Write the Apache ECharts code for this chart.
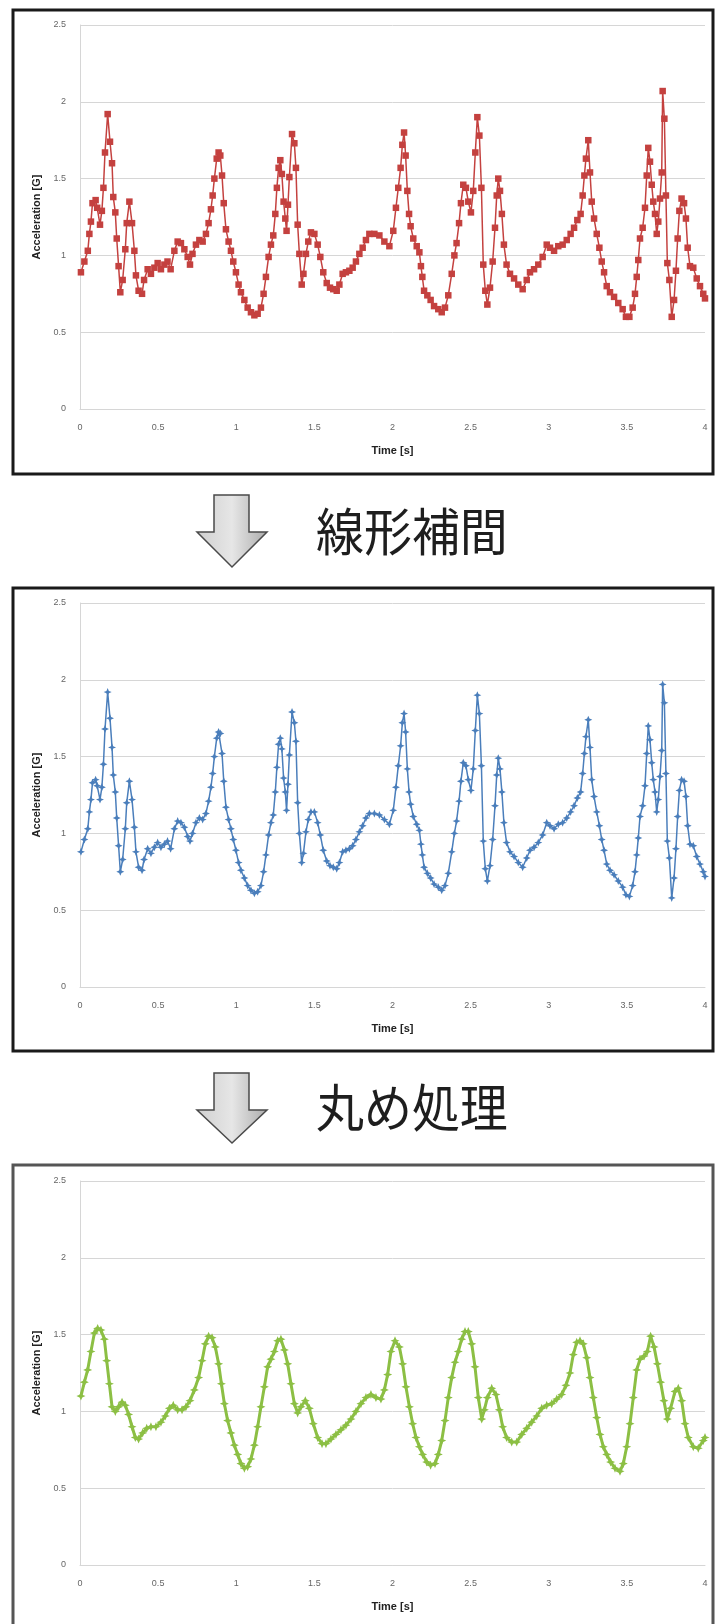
<!DOCTYPE html>
<html>
<head>
<meta charset="utf-8">
<script src="https://cdn.jsdelivr.net/npm/echarts@6/dist/echarts.min.js"></script>
<style>
html,body{margin:0;padding:0;background:#fff;}
#c{width:716px;height:1624px;}
</style>
</head>
<body>
<div id="c"></div>
<script>
// ---- data (time [s], acceleration [G]) ----
var xTicks = [0, 0.5, 1, 1.5, 2, 2.5, 3, 3.5, 4];
var yTicks = [0, 0.5, 1, 1.5, 2, 2.5];

var rawTime = [
0.006,0.028,0.05,0.06,0.07,0.08,0.1,0.11,0.128,0.14,
0.15,0.16,0.177,0.192,0.205,0.213,0.226,0.235,0.247,0.258,
0.273,0.29,0.299,0.316,0.333,0.348,0.358,0.375,0.397,0.41,
0.433,0.454,0.476,0.497,0.518,0.54,0.56,0.58,0.604,0.625,
0.646,0.668,0.689,0.704,0.72,0.742,0.764,0.785,0.806,0.823,
0.838,0.849,0.86,0.875,0.887,0.898,0.909,0.92,0.934,0.951,
0.966,0.981,0.998,1.015,1.03,1.052,1.073,1.094,1.116,1.137,
1.158,1.175,1.19,1.207,1.222,1.237,1.25,1.26,1.271,1.282,
1.292,1.303,1.314,1.322,1.331,1.34,1.357,1.372,1.382,1.393,
1.404,1.419,1.43,1.446,1.461,1.478,1.5,1.521,1.538,1.557,
1.579,1.6,1.621,1.643,1.66,1.681,1.702,1.724,1.745,1.766,
1.788,1.809,1.83,1.852,1.884,1.916,1.948,1.98,2.005,2.022,
2.037,2.052,2.063,2.074,2.084,2.095,2.106,2.116,2.133,2.155,
2.172,2.182,2.191,2.202,2.223,2.244,2.266,2.293,2.315,2.336,
2.357,2.379,2.396,2.41,2.426,2.438,2.453,2.47,2.485,2.502,
2.517,2.53,2.543,2.556,2.569,2.581,2.594,2.607,2.624,2.641,
2.656,2.667,2.677,2.688,2.7,2.713,2.73,2.752,2.778,2.805,
2.833,2.859,2.88,2.906,2.933,2.961,2.987,3.008,3.034,3.061,
3.089,3.115,3.14,3.162,3.183,3.204,3.217,3.228,3.238,3.253,
3.264,3.275,3.29,3.307,3.324,3.339,3.354,3.371,3.392,3.418,
3.445,3.473,3.494,3.516,3.537,3.552,3.563,3.573,3.584,3.601,
3.616,3.627,3.637,3.648,3.659,3.669,3.68,3.691,3.701,3.712,
3.723,3.729,3.74,3.75,3.759,3.772,3.787,3.802,3.814,3.825,
3.836,3.85,3.866,3.878,3.889,3.904,3.925,3.947,3.968,3.989,4.0
];
var rawAccel = [
0.89,0.96,1.03,1.14,1.22,1.34,1.36,1.31,1.2,1.29,
1.44,1.67,1.92,1.74,1.6,1.38,1.28,1.11,0.93,0.76,
0.84,1.04,1.21,1.35,1.21,1.03,0.87,0.77,0.75,0.84,
0.91,0.88,0.92,0.95,0.91,0.94,0.96,0.91,1.03,1.09,
1.08,1.04,0.99,0.94,1.01,1.07,1.1,1.09,1.14,1.21,
1.3,1.39,1.5,1.63,1.67,1.65,1.52,1.34,1.17,1.09,
1.03,0.96,0.89,0.81,0.76,0.71,0.66,0.63,0.61,0.62,
0.66,0.75,0.86,0.99,1.07,1.13,1.27,1.44,1.57,1.62,
1.53,1.35,1.24,1.16,1.33,1.51,1.79,1.73,1.57,1.2,
1.01,0.81,0.88,1.01,1.09,1.15,1.14,1.07,0.99,0.89,
0.82,0.79,0.78,0.77,0.81,0.88,0.89,0.9,0.92,0.96,
1.01,1.05,1.1,1.14,1.14,1.13,1.09,1.06,1.16,1.31,
1.44,1.57,1.72,1.8,1.65,1.42,1.27,1.19,1.11,1.06,
1.02,0.93,0.86,0.77,0.74,0.71,0.67,0.65,0.63,0.66,
0.74,0.88,1.0,1.08,1.21,1.34,1.46,1.44,1.35,1.28,
1.42,1.67,1.9,1.78,1.44,0.94,0.77,0.68,0.79,0.96,
1.18,1.39,1.5,1.42,1.27,1.07,0.94,0.88,0.85,0.81,
0.78,0.84,0.89,0.91,0.94,0.99,1.07,1.05,1.03,1.06,
1.07,1.1,1.14,1.18,1.23,1.27,1.39,1.52,1.63,1.75,
1.54,1.35,1.24,1.14,1.05,0.96,0.89,0.8,0.76,0.73,
0.69,0.65,0.6,0.6,0.66,0.75,0.86,0.97,1.11,1.18,
1.31,1.52,1.7,1.61,1.46,1.35,1.27,1.14,1.22,1.37,
1.54,2.07,1.89,1.39,0.95,0.84,0.6,0.71,0.9,1.11,
1.29,1.37,1.34,1.24,1.05,0.93,0.92,0.85,0.8,0.75,0.72
];

var interpTime = rawTime;
var interpAccel = [
0.88,0.96,1.03,1.14,1.22,1.33,1.35,1.31,1.22,1.3,
1.45,1.68,1.92,1.75,1.56,1.38,1.27,1.1,0.92,0.75,
0.83,1.03,1.2,1.34,1.22,1.04,0.88,0.78,0.76,0.83,
0.9,0.87,0.91,0.94,0.91,0.93,0.95,0.9,1.03,1.08,
1.07,1.04,0.98,0.95,1.0,1.07,1.1,1.09,1.13,1.21,
1.3,1.39,1.5,1.62,1.66,1.65,1.52,1.34,1.17,1.09,
1.03,0.96,0.89,0.81,0.76,0.71,0.66,0.63,0.61,0.62,
0.66,0.75,0.86,0.99,1.07,1.12,1.27,1.43,1.58,1.62,
1.55,1.36,1.27,1.15,1.32,1.51,1.79,1.72,1.6,1.2,
1.0,0.81,0.87,1.01,1.09,1.14,1.14,1.07,0.99,0.89,
0.82,0.79,0.78,0.77,0.81,0.88,0.89,0.9,0.92,0.96,
1.01,1.05,1.1,1.13,1.13,1.12,1.09,1.06,1.15,1.3,
1.44,1.57,1.72,1.78,1.66,1.42,1.27,1.19,1.11,1.06,
1.02,0.93,0.86,0.78,0.74,0.71,0.67,0.65,0.63,0.66,
0.74,0.88,1.0,1.08,1.21,1.34,1.46,1.44,1.35,1.28,
1.42,1.67,1.9,1.78,1.44,0.95,0.77,0.69,0.79,0.96,
1.18,1.38,1.49,1.42,1.27,1.07,0.94,0.88,0.85,0.81,
0.78,0.84,0.89,0.91,0.94,0.99,1.07,1.05,1.03,1.06,
1.07,1.1,1.14,1.18,1.23,1.27,1.39,1.52,1.63,1.74,
1.56,1.35,1.24,1.14,1.05,0.96,0.89,0.8,0.76,0.73,
0.69,0.65,0.6,0.59,0.66,0.75,0.86,0.97,1.11,1.18,
1.31,1.52,1.7,1.61,1.46,1.35,1.27,1.14,1.22,1.37,
1.54,1.97,1.85,1.39,0.95,0.84,0.58,0.71,0.9,1.11,
1.28,1.35,1.34,1.24,1.05,0.93,0.92,0.85,0.8,0.75,0.72
];

var smoothTime = [
0.006,0.028,0.049,0.07,0.092,0.113,0.134,0.156,0.171,0.188,
0.205,0.226,0.247,0.269,0.29,0.311,0.333,0.354,0.375,0.401,
0.427,0.454,0.486,0.518,0.546,0.572,0.597,0.625,0.653,0.678,
0.704,0.732,0.759,0.781,0.802,0.823,0.845,0.866,0.887,0.905,
0.924,0.945,0.966,0.988,1.009,1.03,1.052,1.073,1.094,1.116,
1.137,1.158,1.18,1.201,1.222,1.244,1.265,1.286,1.308,1.329,
1.35,1.372,1.393,1.414,1.442,1.468,1.493,1.521,1.549,1.574,
1.606,1.638,1.67,1.702,1.734,1.766,1.798,1.83,1.862,1.894,
1.926,1.948,1.969,1.99,2.016,2.044,2.065,2.086,2.108,2.129,
2.15,2.172,2.193,2.219,2.244,2.272,2.293,2.315,2.336,2.357,
2.379,2.4,2.421,2.443,2.464,2.485,2.507,2.528,2.549,2.571,
2.588,2.607,2.635,2.662,2.684,2.705,2.73,2.763,2.795,2.827,
2.859,2.891,2.923,2.955,2.987,3.019,3.051,3.083,3.11,3.136,
3.157,3.179,3.2,3.221,3.243,3.264,3.285,3.307,3.328,3.349,
3.371,3.396,3.424,3.456,3.477,3.499,3.52,3.541,3.563,3.584,
3.61,3.631,3.652,3.674,3.695,3.716,3.737,3.759,3.78,3.808,
3.829,3.851,3.872,3.893,3.925,3.957,3.989,4.0
];
var smoothAccel = [
1.1,1.19,1.27,1.39,1.51,1.54,1.53,1.47,1.33,1.18,
1.03,1.0,1.03,1.06,1.04,0.98,0.9,0.83,0.82,0.86,
0.89,0.9,0.9,0.93,0.97,1.02,1.04,1.01,1.01,1.03,
1.07,1.14,1.22,1.33,1.44,1.49,1.48,1.42,1.31,1.18,
1.05,0.94,0.86,0.78,0.72,0.66,0.63,0.64,0.69,0.78,
0.9,1.03,1.16,1.29,1.34,1.39,1.46,1.47,1.4,1.31,
1.18,1.05,0.99,1.03,1.07,1.02,0.92,0.83,0.79,0.79,
0.82,0.85,0.88,0.91,0.95,1.0,1.05,1.09,1.11,1.09,
1.08,1.14,1.24,1.39,1.46,1.42,1.31,1.16,1.03,0.92,
0.83,0.77,0.72,0.67,0.65,0.66,0.72,0.81,0.94,1.09,
1.22,1.32,1.39,1.47,1.52,1.52,1.44,1.29,1.09,0.95,
1.01,1.09,1.15,1.11,1.01,0.9,0.83,0.8,0.8,0.85,
0.89,0.93,0.97,1.02,1.04,1.05,1.08,1.11,1.17,1.25,
1.37,1.45,1.46,1.44,1.35,1.22,1.09,0.96,0.85,0.77,
0.72,0.67,0.63,0.61,0.66,0.77,0.92,1.09,1.27,1.34,
1.36,1.39,1.49,1.42,1.31,1.19,1.07,0.95,1.02,1.13,
1.15,1.07,0.92,0.83,0.77,0.76,0.81,0.83
];

var labels = ['線形補間', '丸め処理'];

// ---- chart ----
function pairs(t, v) { return t.map(function (x, i) { return [x, v[i]]; }); }

var starPath = 'path://M0,-10L3,-3L10,0L3,3L0,10L-3,3L-10,0L-3,-3Z';
var grids = [25, 603, 1181];
var gridCol = '#d6d6d6';
var tickFont = 'Liberation Sans, Arial, sans-serif';

function xAx(i) {
  return {
    type: 'value', gridIndex: i, min: xTicks[0], max: xTicks[xTicks.length - 1],
    interval: xTicks[1] - xTicks[0],
    name: 'Time [s]', nameLocation: 'middle', nameGap: 36,
    nameTextStyle: { fontSize: 11, fontWeight: 'bold', color: '#222', fontFamily: tickFont },
    axisLine: { show: true, lineStyle: { color: gridCol, width: 1 } },
    axisTick: { show: false },
    axisLabel: { fontSize: 9, color: '#666', margin: 14, fontFamily: tickFont },
    splitLine: { show: false }
  };
}
function yAx(i) {
  return {
    type: 'value', gridIndex: i, min: yTicks[0], max: yTicks[yTicks.length - 1],
    interval: yTicks[1] - yTicks[0],
    name: 'Acceleration [G]', nameLocation: 'middle', nameGap: 34,
    nameTextStyle: { fontSize: 11, fontWeight: 'bold', color: '#222', fontFamily: tickFont },
    axisLine: { show: true, lineStyle: { color: gridCol, width: 1 } },
    axisTick: { show: false },
    axisLabel: { fontSize: 9, color: '#666', margin: 14, fontFamily: tickFont },
    splitLine: { show: true, lineStyle: { color: gridCol, width: 1 } }
  };
}

function arrow(top, base, tip) {
  return {
    type: 'polygon',
    shape: { points: [[214, top], [249, top], [249, base], [267, base], [232, tip], [197, base], [214, base]] },
    style: {
      fill: new echarts.graphic.LinearGradient(0, 0, 1, 0, [
        { offset: 0, color: '#cfcfcf' }, { offset: 0.5, color: '#e6e6e6' }, { offset: 1, color: '#ababab' }
      ]),
      stroke: '#4a4a4a', lineWidth: 1.5
    }
  };
}
function jpText(txt, x, y) {
  return {
    type: 'text', x: x, y: y, scaleX: 0.94,
    style: { text: txt, fontSize: 51, fontFamily: 'Noto Sans CJK JP', fill: '#1e1e1e', align: 'left', verticalAlign: 'middle' }
  };
}

var chart = echarts.init(document.getElementById('c'), null, { renderer: 'canvas', width: 716, height: 1624 });
chart.setOption({
  animation: false,
  backgroundColor: '#ffffff',
  grid: grids.map(function (t) { return { left: 80, top: t, width: 625, height: 384 }; }),
  xAxis: [xAx(0), xAx(1), xAx(2)],
  yAxis: [yAx(0), yAx(1), yAx(2)],
  series: [
    {
      type: 'line', xAxisIndex: 0, yAxisIndex: 0, data: pairs(rawTime, rawAccel),
      symbol: 'rect', symbolSize: 6.5, showAllSymbol: true,
      lineStyle: { color: '#c4413f', width: 1.5 }, itemStyle: { color: '#c4413f' }
    },
    {
      type: 'line', xAxisIndex: 1, yAxisIndex: 1, data: pairs(interpTime, interpAccel),
      symbol: starPath, symbolSize: 8, showAllSymbol: true,
      lineStyle: { color: '#4a7ebb', width: 1.5 }, itemStyle: { color: '#4a7ebb' }
    },
    {
      type: 'line', xAxisIndex: 2, yAxisIndex: 2, data: pairs(smoothTime, smoothAccel),
      symbol: starPath, symbolSize: 9, showAllSymbol: true,
      lineStyle: { color: '#8cbf44', width: 3 }, itemStyle: { color: '#8cbf44' }
    }
  ],
  graphic: [
    { type: 'rect', shape: { x: 13, y: 10, width: 700, height: 464 }, style: { fill: 'none', stroke: '#1a1a1a', lineWidth: 3 } },
    { type: 'rect', shape: { x: 13, y: 588, width: 700, height: 463 }, style: { fill: 'none', stroke: '#1a1a1a', lineWidth: 3 } },
    { type: 'rect', shape: { x: 13, y: 1165, width: 700, height: 470 }, style: { fill: 'none', stroke: '#555555', lineWidth: 3 } },
    arrow(495, 532, 567),
    arrow(1073, 1110, 1143),
    jpText(labels[0], 316, 532),
    jpText(labels[1], 316, 1108)
  ]
});
</script>
</body>
</html>
